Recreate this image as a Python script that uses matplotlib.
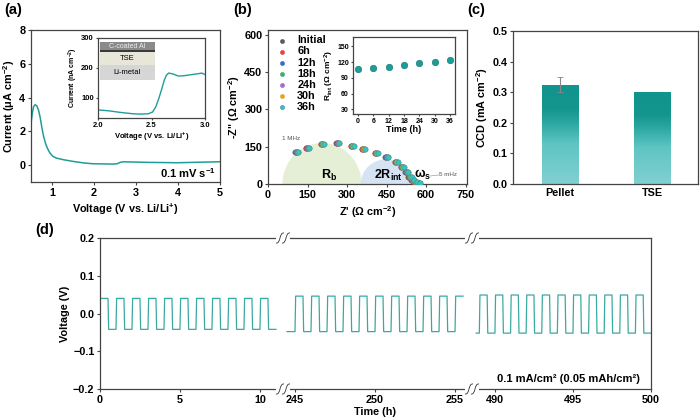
import numpy as np
import matplotlib
matplotlib.use('Agg')
import matplotlib.pyplot as plt
from matplotlib.patches import Ellipse, Rectangle, PathPatch
from matplotlib.path import Path
from matplotlib.colors import LinearSegmentedColormap

plt.rcParams['font.family'] = ['Liberation Sans', 'DejaVu Sans']
plt.rcParams['font.weight'] = 'bold'
plt.rcParams['axes.labelweight'] = 'bold'
plt.rcParams['mathtext.fontset'] = 'custom'
plt.rcParams['mathtext.rm'] = 'Liberation Sans:bold'
plt.rcParams['mathtext.it'] = 'Liberation Sans:bold'
plt.rcParams['mathtext.bf'] = 'Liberation Sans:bold'
plt.rcParams['axes.linewidth'] = 0.9
plt.rcParams['axes.edgecolor'] = '#444444'
plt.rcParams['xtick.color'] = '#444444'
plt.rcParams['ytick.color'] = '#444444'
plt.rcParams['xtick.labelcolor'] = 'black'
plt.rcParams['ytick.labelcolor'] = 'black'
plt.rcParams['xtick.major.size'] = 2.5
plt.rcParams['ytick.major.size'] = 2.5
plt.rcParams['xtick.major.pad'] = 1.5
plt.rcParams['ytick.major.pad'] = 1.5

# (a) LSV
lsv_v = [0.50, 0.53, 0.56, 0.60, 0.64, 0.68, 0.72, 0.76, 0.80, 0.85, 0.90, 0.95, 1.02, 1.10, 1.27,
         1.50, 1.75, 1.98, 2.25, 2.46, 2.55, 2.62, 2.70, 2.78, 3.00, 3.33, 3.70, 3.97, 4.50, 5.00]
lsv_i = [2.45, 3.05, 3.45, 3.58, 3.50, 3.25, 2.80, 2.20, 1.70, 1.25, 0.95, 0.72, 0.52, 0.42, 0.32,
         0.22, 0.13, 0.08, 0.07, 0.06, 0.08, 0.16, 0.20, 0.19, 0.18, 0.16, 0.15, 0.14, 0.17, 0.20]
ins_v = [2.00, 2.10, 2.18, 2.25, 2.33, 2.40, 2.47, 2.51, 2.54, 2.57, 2.60, 2.62, 2.64, 2.66,
         2.70, 2.75, 2.80, 2.88, 2.94, 2.97, 3.00]
ins_i = [60, 57, 53, 50, 47, 46, 47, 53, 70, 100, 135, 160, 176, 183, 180, 173, 174, 178, 181, 183, 178]

# (b) EIS
z_re = [115, 156, 212, 271, 326, 368, 417, 456, 493, 515, 532, 545, 555, 565, 578]
z_im = [127, 143, 161, 166, 154, 139, 125, 109, 89, 68, 48, 30, 17, 9, 6]
eis_labels = ['Initial', '6h', '12h', '18h', '24h', '30h', '36h']
eis_colors = ['#5a5a5a', '#e8443a', '#3b6cc4', '#2fb36b', '#a46dc7', '#e5a31f', '#36c2c2']
eis_shift = [-12, -10, -8, -6, -4, -2, 0]
rint_t = [0, 6, 12, 18, 24, 30, 36]
rint = [106, 108, 111, 115, 118, 121, 124]

# (c) CCD
ccd_labels = ['Pellet', 'TSE']
ccd = [0.325, 0.30]
ccd_err = [0.025, 0.0]

# (d) cycling
seg_start = [0.0, 244.5, 488.8]
seg_end = [11.0, 255.5, 500.0]
seg_hi = [0.040, 0.046, 0.049]
seg_lo = [-0.042, -0.048, -0.052]
seg_xlim = [(0, 11.44), (244.25, 256.06), (488.53, 500.0)]
seg_ticks = [[0, 5, 10], [245, 250, 255], [490, 495, 500]]
half_cycle = 0.5

W, H = 700, 420
fig = plt.figure(figsize=(7, 4.2), dpi=100)


def box(l, r, t, b):
    return [l / W, 1 - b / H, (r - l) / W, (b - t) / H]


teal = '#1f9e97'
fs = 7.8

# ---------------- (a)
ax = fig.add_axes(box(31, 220, 30, 182))
ax.plot(lsv_v, lsv_i, color=teal, lw=1.1)
ax.set_xlim(0.5, 5)
ax.set_ylim(-1, 8)
ax.set_xticks([1, 2, 3, 4, 5])
ax.set_yticks([0, 2, 4, 6, 8])
ax.tick_params(labelsize=fs)
ax.set_xlabel('Voltage (V vs. Li/Li$^{+}$)', fontsize=fs, labelpad=3)
ax.set_ylabel('Current (μA cm$^{-2}$)', fontsize=fs, labelpad=2)
ax.text(0.98, 0.06, '0.1 mV s$^{-1}$', transform=ax.transAxes, ha='right', va='center', fontsize=8)

axi = fig.add_axes(box(98, 205, 38, 118))
axi.plot(ins_v, ins_i, color=teal, lw=1.0)
axi.set_xlim(2.0, 3.0)
axi.set_ylim(33, 300)
axi.set_xticks([2.0, 2.5, 3.0])
axi.set_yticks([100, 200, 300])
axi.tick_params(labelsize=5.5, length=1.5)
axi.set_xlabel('Voltage (V vs. Li/Li$^{+}$)', fontsize=5.5, labelpad=1)
axi.set_ylabel('Current (nA cm$^{-2}$)', fontsize=5, labelpad=1)
for y0, y1, c in [(0.85, 0.95, '#8a8a8a'), (0.825, 0.85, '#3a3a3a'),
                  (0.66, 0.825, '#e8e6d8'), (0.475, 0.66, '#d6d6d6')]:
    axi.add_patch(Rectangle((0.02, y0), 0.51, y1 - y0, transform=axi.transAxes,
                            color=c, lw=0, zorder=3))
axi.text(0.275, 0.9, 'C-coated Al', transform=axi.transAxes, ha='center', va='center',
         fontsize=5, color='#eeeeee', fontweight='normal', zorder=4)
axi.text(0.275, 0.74, 'TSE', transform=axi.transAxes, ha='center', va='center',
         fontsize=5.5, fontweight='normal', zorder=4)
axi.text(0.275, 0.565, 'Li-metal', transform=axi.transAxes, ha='center', va='center',
         fontsize=5.5, fontweight='normal', zorder=4)

# ---------------- (b)
ax = fig.add_axes(box(268, 467, 30, 184))
ax.add_patch(Ellipse((205, 0), 300, 330, color='#e4efd6', lw=0, zorder=0))
ax.add_patch(Ellipse((450, 0), 196, 200, color='#d5e3f3', lw=0, zorder=0.5))
handles = []
for lab, col, dz in zip(eis_labels, eis_colors, eis_shift):
    h = ax.scatter([x + dz for x in z_re], z_im, s=15, color=col,
                   edgecolors='#2f8080' if lab == '36h' else col,
                   linewidths=0.3, zorder=3, label=lab)
    handles.append(h)
ax.set_xlim(0, 755)
ax.set_ylim(0, 620)
ax.set_xticks([0, 150, 300, 450, 600, 750])
ax.set_yticks([0, 150, 300, 450, 600])
ax.tick_params(labelsize=fs)
ax.set_xlabel("Z' (Ω cm$^{-2}$)", fontsize=fs, labelpad=3)
ax.set_ylabel('-Z" (Ω cm$^{-2}$)', fontsize=fs, labelpad=2)
ax.text(230, 35, 'R$_{b}$', fontsize=9, ha='center', va='center')
ax.text(455, 35, '2R$_{int}$', fontsize=9, ha='center', va='center')
ax.text(585, 38, 'ω$_{s}$', fontsize=9, ha='center', va='center')
ax.text(88, 178, '1 MHz', fontsize=4.5, color='#555555', ha='center', fontweight='normal')
ax.text(682, 38, '5 mHz', fontsize=4.5, color='#555555', ha='center', va='center', fontweight='normal')
ax.plot([614, 652], [32, 37], color='#888888', lw=0.4)
leg = ax.legend(handles=handles, loc='upper left', frameon=False, fontsize=fs,
                handletextpad=0.6, labelspacing=0.1, borderaxespad=0.2, markerscale=0.8,
                borderpad=0.3, handlelength=1.6)

axb = fig.add_axes(box(353, 455, 37, 114))
axb.scatter(rint_t, rint, s=22, color='#1a9e98', edgecolors='#11706c', linewidths=0.4, zorder=3)
axb.set_xlim(-2, 38)
axb.set_ylim(21, 168)
axb.set_xticks(rint_t)
axb.set_yticks([30, 60, 90, 120, 150])
axb.tick_params(labelsize=5, length=1.5)
axb.set_xlabel('Time (h)', fontsize=6.5, labelpad=0)
axb.set_ylabel('R$_{int}$ (Ω cm$^{-2}$)', fontsize=6, labelpad=1)

# ---------------- (c)
ax = fig.add_axes(box(513, 698, 31, 184))
cmap = LinearSegmentedColormap.from_list('g', [(0, '#82d0d2'), (0.4, '#5ec5c3'),
                                               (0.62, '#2aa6a0'), (0.75, '#14968f'), (1, '#12948e')])
grad = np.linspace(0, 1, 256).reshape(-1, 1)
xs = np.arange(len(ccd))
bars = ax.bar(xs, ccd, width=0.4, color='none', edgecolor='none', zorder=2)
for b in bars:
    x0 = b.get_x()
    im = ax.imshow(grad, extent=[x0, x0 + b.get_width(), 0, b.get_height()], aspect='auto',
                   cmap=cmap, origin='lower', zorder=2)
    im.set_clip_path(b)
ax.errorbar(xs[0], ccd[0], yerr=ccd_err[0], color='#888888', lw=0.8, capsize=2, capthick=0.6, zorder=3)
ax.set_xlim(-0.51, 1.49)
ax.set_ylim(0, 0.5)
ax.set_xticks(xs)
ax.set_xticklabels(ccd_labels)
ax.set_yticks([0, 0.1, 0.2, 0.3, 0.4, 0.5])
ax.tick_params(labelsize=fs)
ax.tick_params(axis='x', length=0, pad=3)
ax.set_ylabel('CCD (mA cm$^{-2}$)', fontsize=fs, labelpad=2)

# ---------------- (d)
seg_px = [(100, 283), (283, 472), (472, 651)]


def square_wave(t0, t1, hi, lo, ramp=0.04):
    def lvl(t):
        return hi if (t % 1.0) < 0.5 else lo
    edges = np.arange(np.ceil(t0 / half_cycle) * half_cycle, t1, half_cycle)
    edges = edges[edges > t0 + 1e-9]
    ts, vs = [t0], [lvl(t0 + 1e-6)]
    for e in edges:
        ts += [e, e + ramp]
        vs += [lvl(e - 1e-6), lvl(e + 1e-6)]
    ts.append(t1)
    vs.append(lvl(t1 - 1e-6))
    return ts, vs


dax = []
for i in range(3):
    a = fig.add_axes(box(seg_px[i][0], seg_px[i][1], 238, 389))
    t, v = square_wave(seg_start[i], seg_end[i], seg_hi[i], seg_lo[i])
    a.plot(t, v, color='#3aa9a1', lw=0.9)
    a.set_xlim(*seg_xlim[i])
    a.set_ylim(-0.2, 0.2)
    a.set_xticks(seg_ticks[i])
    a.tick_params(labelsize=fs)
    if i > 0:
        a.spines['left'].set_visible(False)
        a.tick_params(axis='y', left=False, labelleft=False)
    if i < 2:
        a.spines['right'].set_visible(False)
    dax.append(a)
dax[0].set_yticks([-0.2, -0.1, 0.0, 0.1, 0.2])
dax[0].set_ylabel('Voltage (V)', fontsize=fs, labelpad=2)
fig.text(375 / W, 1 - 412 / H, 'Time (h)', ha='center', va='center', fontsize=fs)
fig.text(640 / W, 1 - 379 / H, '0.1 mA/cm² (0.05 mAh/cm²)', ha='right', va='center', fontsize=8)


def brk(xc, yc):
    fig.add_artist(Rectangle(((xc - 7) / W, 1 - (yc + 2) / H), 14 / W, 4 / H,
                             transform=fig.transFigure, color='white', lw=0, zorder=5))
    for dx in (-3, 3):
        pts = [(xc + dx - 4, yc + 5), (xc + dx + 1, yc + 6), (xc + dx - 1, yc - 6), (xc + dx + 4, yc - 5)]
        verts = [(px / W, 1 - py / H) for px, py in pts]
        p = Path(verts, [Path.MOVETO, Path.CURVE4, Path.CURVE4, Path.CURVE4])
        fig.add_artist(PathPatch(p, transform=fig.transFigure, fill=False, lw=0.6,
                                 edgecolor='#333333', zorder=6))


for xc in (283, 472):
    brk(xc, 238)
    brk(xc, 389)

# panel labels
for x, y, s in [(4, 10, '(a)'), (233, 10, '(b)'), (467, 10, '(c)'), (35, 230, '(d)')]:
    fig.text(x / W, 1 - y / H, s, fontsize=10.5, ha='left', va='center')

fig.savefig('out.png', dpi=100)
